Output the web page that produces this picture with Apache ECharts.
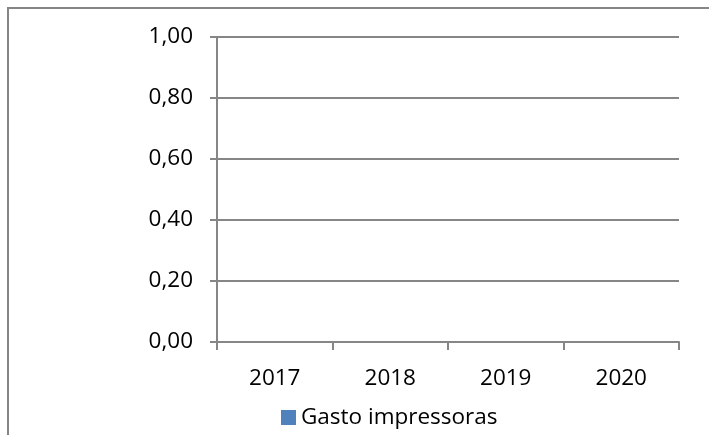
<!DOCTYPE html>
<html>
<head>
<meta charset="utf-8">
<script src="https://cdn.jsdelivr.net/npm/echarts@6/dist/echarts.min.js"></script>
<style>
  html, body { margin: 0; padding: 0; background: #fff; }
  #chart { width: 709px; height: 435px; }
</style>
</head>
<body>
<div id="chart"></div>
<script>
const years = ['2017', '2018', '2019', '2020']
const gastoImpressoras = [0, 0, 0, 0]
const seriesName = 'Gasto impressoras'

const axisGray = '#868686'
const font = '"Open Sans", sans-serif'

const chart = echarts.init(document.getElementById('chart'))

const option = {
  animation: false,
  textStyle: { fontFamily: font },
  graphic: [
    {
      type: 'polyline',
      shape: { points: [[8, 435], [8, 8], [709, 8]] },
      style: { stroke: axisGray, lineWidth: 2, fill: null }
    }
  ],
  grid: {
    left: 217,
    right: 30,
    top: 37,
    bottom: 93
  },
  legend: {
    left: 276,
    top: 401,
    itemWidth: 15,
    itemHeight: 15,
    itemGap: 6,
    icon: 'rect',
    textStyle: { color: '#000', fontSize: 22.5, fontFamily: font },
    data: [seriesName]
  },
  xAxis: {
    type: 'category',
    data: years,
    axisLine: { lineStyle: { color: axisGray, width: 2 } },
    axisTick: { show: true, length: 8, lineStyle: { color: axisGray, width: 2 } },
    axisLabel: { color: '#000', fontSize: 22.5, margin: 25, fontFamily: font },
    splitLine: { show: false }
  },
  yAxis: {
    type: 'value',
    min: 0,
    max: 1,
    interval: 0.2,
    axisLine: { show: true, lineStyle: { color: axisGray, width: 2 } },
    axisTick: { show: true, length: 7, lineStyle: { color: axisGray, width: 2 } },
    axisLabel: {
      color: '#000',
      fontSize: 22.5,
      margin: 24,
      fontFamily: font,
      formatter: v => v.toFixed(2).replace('.', ',')
    },
    splitLine: { lineStyle: { color: axisGray, width: 2 } }
  },
  series: [
    {
      name: seriesName,
      type: 'bar',
      data: gastoImpressoras,
      itemStyle: { color: '#4F81BD' }
    }
  ]
}

chart.setOption(option)
</script>
</body>
</html>
